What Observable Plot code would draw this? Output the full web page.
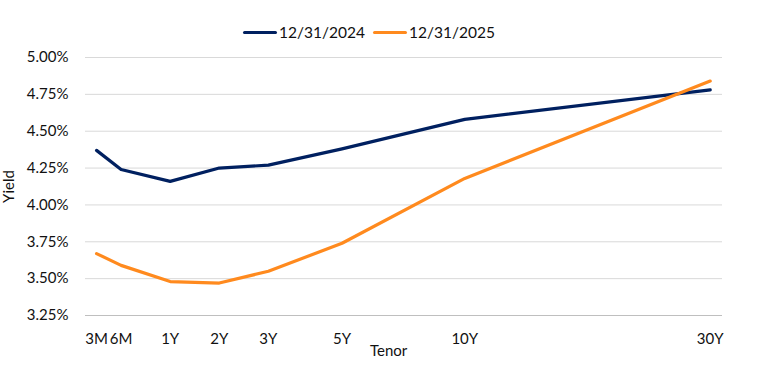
<!DOCTYPE html>
<html>
<head>
<meta charset="utf-8">
<script src="https://cdn.jsdelivr.net/npm/d3@7"></script>
<script src="https://cdn.jsdelivr.net/npm/@observablehq/plot@0.6"></script>
<style>
  html, body { margin: 0; padding: 0; background: #fff; }
  body { width: 758px; height: 365px; overflow: hidden; font-family: Lato, sans-serif; }
  #legend { height: 45px; display: flex; justify-content: center; align-items: center; padding-top: 19px; padding-right: 20px; box-sizing: border-box; color: #111; font-size: 15.5px; }
  .item { display: flex; align-items: center; margin: 0 4px; }
  .sw { width: 34px; height: 3px; margin-right: 2px; border-radius: 2px; }
</style>
</head>
<body>
<div id="legend"></div>
<div id="chart"></div>
<script>
const tenors = ["3M", "6M", "1Y", "2Y", "3Y", "5Y", "10Y", "30Y"];
const tenorAxisPos = [0, 1, 3, 5, 7, 10, 15, 25];
const series = ["12/31/2024", "12/31/2025"];
const yield2024 = [4.37, 4.24, 4.16, 4.25, 4.27, 4.38, 4.58, 4.78];
const yield2025 = [3.67, 3.59, 3.48, 3.47, 3.55, 3.74, 4.18, 4.84];
const yTicks = [3.25, 3.5, 3.75, 4.0, 4.25, 4.5, 4.75, 5.0];
const colors = ["#002060", "#FF8A1E"];

const data = [];
[yield2024, yield2025].forEach((vals, s) => {
  vals.forEach((v, i) => data.push({series: series[s], tenor: tenors[i], pos: tenorAxisPos[i], yield: v}));
});

// legend
const legend = document.getElementById("legend");
series.forEach((s, i) => {
  const it = document.createElement("div");
  it.className = "item";
  it.innerHTML = `<span class="sw" style="background:${colors[i]}"></span><span>${s}</span>`;
  legend.appendChild(it);
});

const chart = Plot.plot({
  width: 758,
  height: 320,
  marginTop: 12,
  marginBottom: 50,
  marginLeft: 85,
  marginRight: 36,
  style: {fontFamily: "Lato, sans-serif", fontSize: "15px", color: "#111", background: "#fff"},
  x: {domain: [-0.45, 25.5]},
  y: {domain: [3.25, 5.0]},
  color: {domain: series, range: colors},
  marks: [
    Plot.gridY(yTicks.slice(1), {stroke: "#d9d9d9", strokeOpacity: 1, strokeWidth: 1}),
    Plot.ruleY([3.25], {stroke: "#bfbfbf", strokeWidth: 1}),
    Plot.axisY({ticks: yTicks, tickSize: 0, tickPadding: 17, tickFormat: d => d.toFixed(2) + "%", label: "Yield", labelAnchor: "center", labelArrow: "none", labelOffset: 82, fontSize: 15}),
    Plot.axisX({ticks: tenorAxisPos, tickSize: 0, tickPadding: 18, tickFormat: (d, i) => tenors[i], label: null, fontSize: 15}),
    Plot.text(["Tenor"], {x: 11.9, y: 3.25, dy: 36, text: d => d, fontSize: 15}),
    Plot.line(data, {x: "pos", y: "yield", z: "series", stroke: "series", strokeWidth: 3.2, strokeLinejoin: "round", strokeLinecap: "round"})
  ]
});
document.getElementById("chart").appendChild(chart);
</script>
</body>
</html>
